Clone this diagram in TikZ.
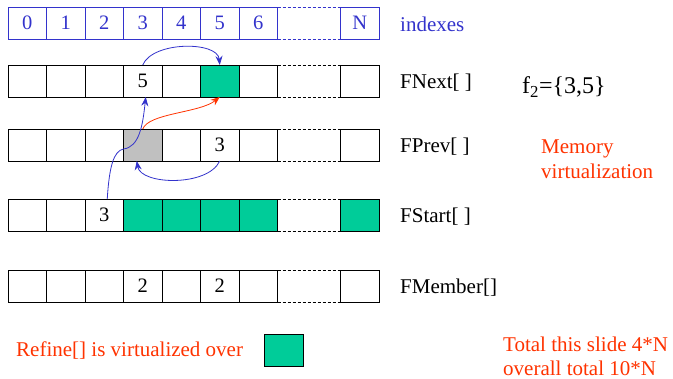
\documentclass[tikz,border=0pt]{standalone}
\usepackage{fontspec}
\setmainfont{Liberation Serif}
\usetikzlibrary{arrows.meta}
\definecolor{bluA}{RGB}{51,51,204}
\definecolor{redA}{RGB}{255,51,0}
\definecolor{grn}{RGB}{0,204,153}
\definecolor{gry}{RGB}{192,192,192}
\begin{document}
\begin{tikzpicture}[x=1pt,y=-1pt,
  cell/.style={draw=black, line width=0.8pt, minimum width=38.5pt, minimum height=32pt,
    inner sep=0pt, outer sep=0pt, font=\fontsize{20.5}{24}\selectfont},
  icell/.style={cell, draw=bluA, text=bluA},
  gapline/.style={line width=0.8pt, dash pattern=on 3pt off 2pt},
  lbl/.style={anchor=west, inner sep=0pt, font=\fontsize{21}{25}\selectfont},
  rlbl/.style={lbl, text=redA, align=left},
  barrow/.style={draw=bluA, line width=0.8pt, -{Stealth[length=9pt,width=7pt]}},
  rarrow/.style={draw=redA, line width=0.8pt, -{Stealth[length=9pt,width=7pt]}}
]
\useasboundingbox (0,0) rectangle (673,379);
\fill[white] (0,0) rectangle (673,379);

% index row
\foreach \c in {0,...,6}
  \node[icell] (i\c) at ({27.25+38.5*\c},23) {\c};
\node[icell] (iN) at (359.75,23) {N};
\draw[gapline, bluA] (i6.north east) -- (iN.north west);
\draw[gapline, bluA] (i6.south east) -- (iN.south west);

% FNext row
\foreach \c/\t/\f in {0/{}/white,1/{}/white,2/{}/white,3/5/white,4/{}/white,5/{}/grn,6/{}/white}
  \node[cell, fill=\f] (n\c) at ({27.25+38.5*\c},81) {\t};
\node[cell] (nN) at (359.75,81) {};

% FPrev row
\foreach \c/\t/\f in {0/{}/white,1/{}/white,2/{}/white,3/{}/gry,4/{}/white,5/3/white,6/{}/white}
  \node[cell, fill=\f] (p\c) at ({27.25+38.5*\c},145) {\t};
\node[cell] (pN) at (359.75,145) {};

% FStart row
\foreach \c/\t/\f in {0/{}/white,1/{}/white,2/3/white,3/{}/grn,4/{}/grn,5/{}/grn,6/{}/grn}
  \node[cell, fill=\f] (s\c) at ({27.25+38.5*\c},215) {\t};
\node[cell, fill=grn] (sN) at (359.75,215) {};

% FMember row
\foreach \c/\t in {0/{},1/{},2/{},3/2,4/{},5/2,6/{}}
  \node[cell] (m\c) at ({27.25+38.5*\c},286) {\t};
\node[cell] (mN) at (359.75,286) {};

\foreach \r in {n,p,s,m} {
  \draw[gapline] (\r6.north east) -- (\r N.north west);
  \draw[gapline] (\r6.south east) -- (\r N.south west);
}

% labels
\node[lbl, text=bluA] (lidx) at (400,24) {indexes};
\node[lbl] (lnext) at (400,83) {FNext[ ]};
\node[lbl] (lprev) at (400,147) {FPrev[ ]};
\node[lbl] (lstart) at (400,217) {FStart[ ]};
\node[lbl] (lmem) at (400,288) {FMember[]};
\node[lbl, font=\fontsize{24}{28}\selectfont] (fset) at (522,87) {f\textsubscript{2}=\{3,5\}};
\node[rlbl] (memv) at (541,159.5) {Memory\\virtualization};
\node[rlbl, font=\fontsize{21}{24}\selectfont] (total) at (503,356) {Total this slide 4*N\\overall total 10*N};
\node[rlbl] (refine) at (16,351) {Refine[] is virtualized over};
\node[draw=black, line width=0.8pt, fill=grn, minimum width=39pt, minimum height=32pt,
  inner sep=0pt] (gsq) at (283.5,350) {};

% arrows
\draw[barrow] (n3.north) .. controls +(10,-24) and +(-2,-24) .. (n5.north);
\draw[barrow] (p5.south) .. controls +(-12,26) and +(4,24) .. ([xshift=-6pt]p3.south);
\draw[barrow] ([xshift=3pt]s2.north) .. controls +(2,-32) and +(-10,2) .. ([yshift=-4pt]p3.west)
  .. controls +(16,-2) and +(-3,28) .. ([xshift=3pt]n3.south);
\draw[rarrow] (p3.north) .. controls +(6,-16) and +(-20,16) .. (n5.south);
\end{tikzpicture}
\end{document}
